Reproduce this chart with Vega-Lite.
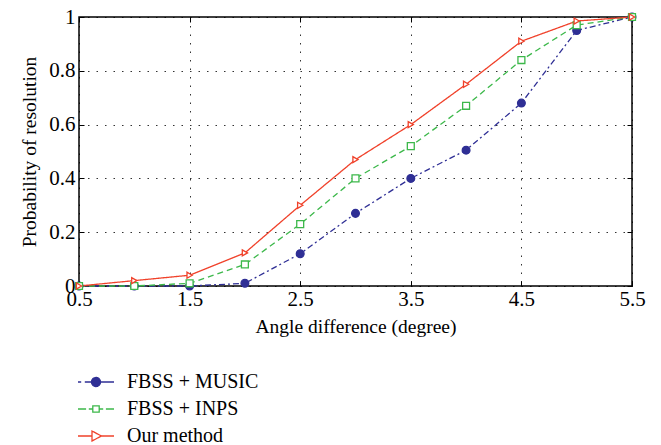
{
  "$schema": "https://vega.github.io/schema/vega-lite/v6.json",
  "width": 553,
  "height": 269,
  "autosize": {"type": "none"},
  "padding": {"left": 79, "top": 17, "right": 29, "bottom": 159},
  "background": "white",
  "config": {
    "font": "Liberation Serif",
    "view": {"stroke": "black", "strokeWidth": 1.5},
    "axis": {
      "labelFont": "Liberation Serif",
      "titleFont": "Liberation Serif",
      "labelFontSize": 21,
      "titleFontSize": 19.5,
      "titleFontWeight": "normal",
      "labelColor": "black",
      "titleColor": "black",
      "labelFlush": false,
      "domain": false,
      "tickColor": "black",
      "tickSize": -5,
      "tickWidth": 1,
      "gridColor": "black",
      "gridDash": [1.5, 7],
      "gridOpacity": 0.8,
      "gridWidth": 1
    },
    "legend": {
      "labelFont": "Liberation Serif",
      "labelFontSize": 20,
      "labelColor": "black"
    }
  },
  "data": {
    "values": [
      {"x": 0.5, "method": "FBSS + MUSIC", "p": 0},
      {"x": 1.0, "method": "FBSS + MUSIC", "p": 0},
      {"x": 1.5, "method": "FBSS + MUSIC", "p": 0},
      {"x": 2.0, "method": "FBSS + MUSIC", "p": 0.01},
      {"x": 2.5, "method": "FBSS + MUSIC", "p": 0.12},
      {"x": 3.0, "method": "FBSS + MUSIC", "p": 0.27},
      {"x": 3.5, "method": "FBSS + MUSIC", "p": 0.4},
      {"x": 4.0, "method": "FBSS + MUSIC", "p": 0.505},
      {"x": 4.5, "method": "FBSS + MUSIC", "p": 0.68},
      {"x": 5.0, "method": "FBSS + MUSIC", "p": 0.95},
      {"x": 5.5, "method": "FBSS + MUSIC", "p": 1},
      {"x": 0.5, "method": "FBSS + INPS", "p": 0},
      {"x": 1.0, "method": "FBSS + INPS", "p": 0},
      {"x": 1.5, "method": "FBSS + INPS", "p": 0.01},
      {"x": 2.0, "method": "FBSS + INPS", "p": 0.08},
      {"x": 2.5, "method": "FBSS + INPS", "p": 0.23},
      {"x": 3.0, "method": "FBSS + INPS", "p": 0.4},
      {"x": 3.5, "method": "FBSS + INPS", "p": 0.52},
      {"x": 4.0, "method": "FBSS + INPS", "p": 0.67},
      {"x": 4.5, "method": "FBSS + INPS", "p": 0.84},
      {"x": 5.0, "method": "FBSS + INPS", "p": 0.97},
      {"x": 5.5, "method": "FBSS + INPS", "p": 1},
      {"x": 0.5, "method": "Our method", "p": 0},
      {"x": 1.0, "method": "Our method", "p": 0.02},
      {"x": 1.5, "method": "Our method", "p": 0.04},
      {"x": 2.0, "method": "Our method", "p": 0.123},
      {"x": 2.5, "method": "Our method", "p": 0.3},
      {"x": 3.0, "method": "Our method", "p": 0.47},
      {"x": 3.5, "method": "Our method", "p": 0.6},
      {"x": 4.0, "method": "Our method", "p": 0.75},
      {"x": 4.5, "method": "Our method", "p": 0.91},
      {"x": 5.0, "method": "Our method", "p": 0.985},
      {"x": 5.5, "method": "Our method", "p": 1}
    ]
  },
  "layer": [
    {
      "mark": {"type": "line", "strokeWidth": 1.3, "clip": false},
      "encoding": {
        "x": {
          "field": "x", "type": "quantitative",
          "scale": {"domain": [0.5, 5.5], "nice": false, "zero": false},
          "axis": {"orient": "bottom", "values": [0.5, 1.5, 2.5, 3.5, 4.5, 5.5], "format": ".1f", "title": "Angle difference (degree)", "labelPadding": 7, "titlePadding": 8, "grid": true}
        },
        "y": {
          "field": "p", "type": "quantitative",
          "scale": {"domain": [0, 1], "nice": false},
          "axis": {"orient": "left", "values": [0, 0.2, 0.4, 0.6, 0.8, 1], "format": "~g", "title": "Probability of resolution", "labelPadding": 9, "titlePadding": 9, "grid": true}
        },
        "color": {
          "field": "method", "type": "nominal",
          "scale": {"domain": ["FBSS + MUSIC", "FBSS + INPS", "Our method"], "range": ["#2f2f95", "#3cb84a", "#f0412a"]},
          "legend": {
            "orient": "none", "legendX": 6, "legendY": 354, "title": null,
            "rowPadding": 6, "symbolSize": 400, "symbolStrokeWidth": 1.3, "labelOffset": 20,
            "encode": {
              "symbols": {
                "update": {
                  "shape": {"signal": "datum.value == 'FBSS + MUSIC' ? 'M-1.8,0H-1.48M-1.12,0H-0.45M0.45,0A0.45,0.45 0 1,1 -0.45,0A0.45,0.45 0 1,1 0.45,0ZM0.45,0H1.8' : datum.value == 'FBSS + INPS' ? 'M-1.8,0H-0.99M-0.72,0H-0.32M-0.32,-0.32H0.32V0.32H-0.32ZM0.32,0H0.72M0.99,0H1.8' : 'M-1.8,0H-0.4M-0.4,-0.5L0.54,0L-0.4,0.5ZM0.54,0H1.8'"},
                  "fill": {"signal": "datum.value == 'FBSS + MUSIC' ? '#2f2f95' : 'white'"},
                  "strokeDash": {"value": [1, 0]}
                }
              }
            }
          }
        },
        "strokeDash": {
          "field": "method", "type": "nominal",
          "scale": {"domain": ["FBSS + MUSIC", "FBSS + INPS", "Our method"], "range": [[6, 3, 2, 3], [6, 4], [1, 0]]},
          "legend": null
        }
      }
    },
    {
      "mark": {"type": "point", "strokeWidth": 1.3, "opacity": 1, "clip": false},
      "encoding": {
        "x": {
          "field": "x", "type": "quantitative",
          "axis": {"orient": "top", "values": [0.5, 1.5, 2.5, 3.5, 4.5, 5.5], "labels": false, "title": null, "grid": false}
        },
        "y": {
          "field": "p", "type": "quantitative",
          "axis": {"orient": "right", "values": [0, 0.2, 0.4, 0.6, 0.8, 1], "labels": false, "title": null, "grid": false}
        },
        "color": {
          "field": "method", "type": "nominal",
          "scale": {"domain": ["FBSS + MUSIC", "FBSS + INPS", "Our method"], "range": ["#2f2f95", "#3cb84a", "#f0412a"]},
          "legend": null
        },
        "shape": {
          "field": "method", "type": "nominal",
          "scale": {"domain": ["FBSS + MUSIC", "FBSS + INPS", "Our method"], "range": ["circle", "square", "triangle-right"]},
          "legend": null
        },
        "fill": {
          "field": "method", "type": "nominal",
          "scale": {"domain": ["FBSS + MUSIC", "FBSS + INPS", "Our method"], "range": ["#2f2f95", "white", "white"]},
          "legend": null
        },
        "size": {
          "field": "method", "type": "nominal",
          "scale": {"domain": ["FBSS + MUSIC", "FBSS + INPS", "Our method"], "range": [60, 36, 80]},
          "legend": null
        }
      }
    }
  ],
  "resolve": {
    "axis": {"x": "independent", "y": "independent"},
    "scale": {"color": "independent"},
    "legend": {"color": "independent"}
  }
}
